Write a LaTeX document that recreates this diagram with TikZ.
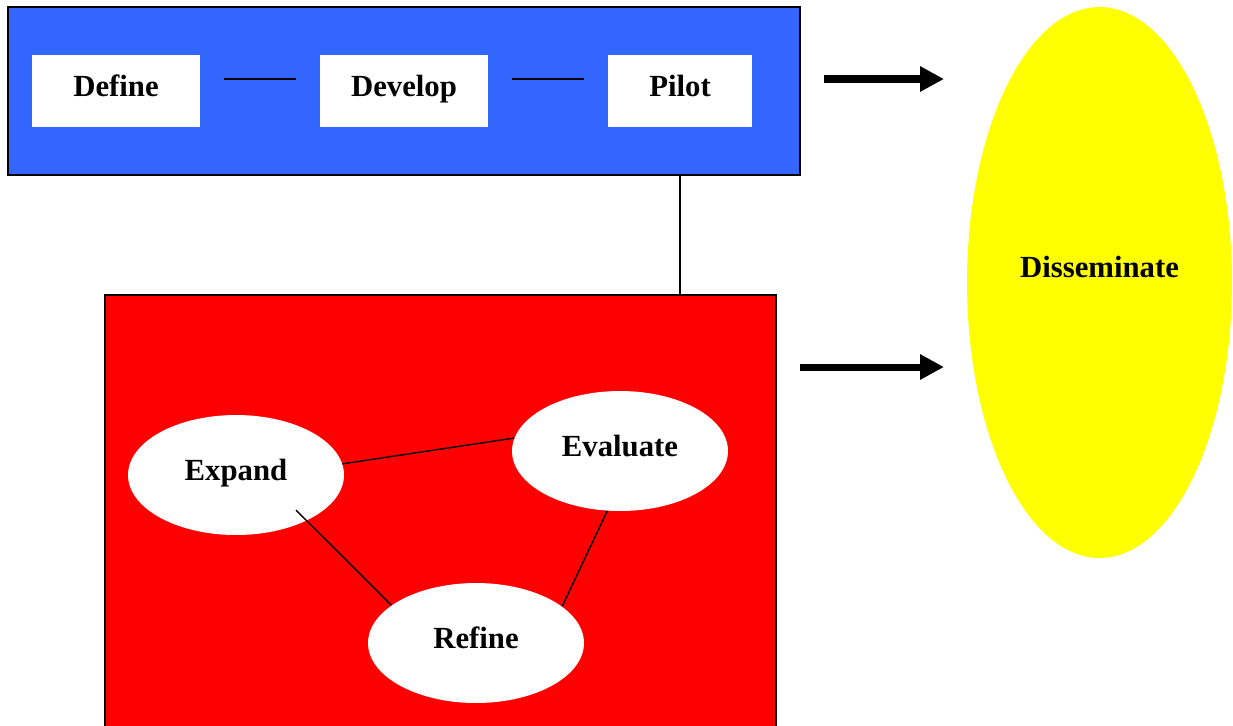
\documentclass[tikz,border=0pt]{standalone}
\usepackage{fontspec}
\setmainfont{Liberation Serif}
\usetikzlibrary{shapes.geometric}
\usetikzlibrary{arrows.meta}

\definecolor{phaseblue}{HTML}{3366FF}
\definecolor{spreadyellow}{HTML}{FFFF00}
\definecolor{looped}{HTML}{FF0000}

\begin{document}
\begin{tikzpicture}[x=0.02cm, y=-0.02cm,
   font=\fontsize{17.5}{21}\selectfont\bfseries,
   stepbox/.style={fill=white, inner sep=0pt, minimum height=1.44cm,
      text height=0.42cm, text depth=0.2cm},
   loopnode/.style={ellipse, fill=white, inner sep=0pt, minimum width=4.32cm,
      minimum height=2.4cm, text height=0.42cm, text depth=0.2cm},
   link/.style={line width=.8pt},
   bigarrow/.style={line width=4pt, -{Triangle[length=0.48cm, width=0.48cm]}}
]
   \fill[white] (0,0) rectangle (1233,725);
   \useasboundingbox (0,0) rectangle (1233,725);

   % upper phase
   \node[draw, line width=1pt, fill=phaseblue, inner sep=0pt,
      minimum width=15.84cm, minimum height=3.36cm] (phase) at (404,91) {};
   \node[stepbox, minimum width=3.36cm] (define) at (116,91) {Define};
   \node[stepbox, minimum width=3.36cm] (develop) at (404,91) {Develop};
   \node[stepbox, minimum width=2.88cm] (pilot) at (680,91) {Pilot};

   \draw[link, shorten <=0.48cm, shorten >=0.48cm]
      ([yshift=0.24cm]define.east) -- ([yshift=0.24cm]develop.west);
   \draw[link, shorten <=0.48cm, shorten >=0.48cm]
      ([yshift=0.24cm]develop.east) -- ([yshift=0.24cm]pilot.west);

   % lower phase
   \node[draw, line width=.8pt, fill=looped, inner sep=0pt,
      minimum width=13.42cm, minimum height=8.7cm] (cycle) at (440.5,512.5) {};
   \draw[link] (pilot |- phase.south) -- (pilot |- cycle.north);

   \node[loopnode] (expand) at (236,475) {Expand};
   \node[loopnode] (evaluate) at (620,451) {Evaluate};
   \node[loopnode] (refine) at (476,643) {Refine};

   \draw[link] (expand.6) -- (evaluate.173);
   \draw[link] ([shift={(60,35)}]expand.center) -- (refine.156);
   \draw[link] (evaluate.258) -- (refine.23);

   % dissemination
   \node[ellipse, fill=spreadyellow, inner sep=0pt, minimum width=5.3cm,
      minimum height=11.02cm, text height=0.42cm, text depth=0.64cm]
      (disseminate) at (1099.5,282.5) {Disseminate};

   \coordinate (topstart) at (824,79);
   \coordinate (topend) at (944,79);
   \coordinate (lowstart) at (800,367);
   \coordinate (lowend) at (944,367);
   \draw[bigarrow] (topstart) -- (topend);
   \draw[bigarrow] (lowstart) -- (lowend);
\end{tikzpicture}
\end{document}
